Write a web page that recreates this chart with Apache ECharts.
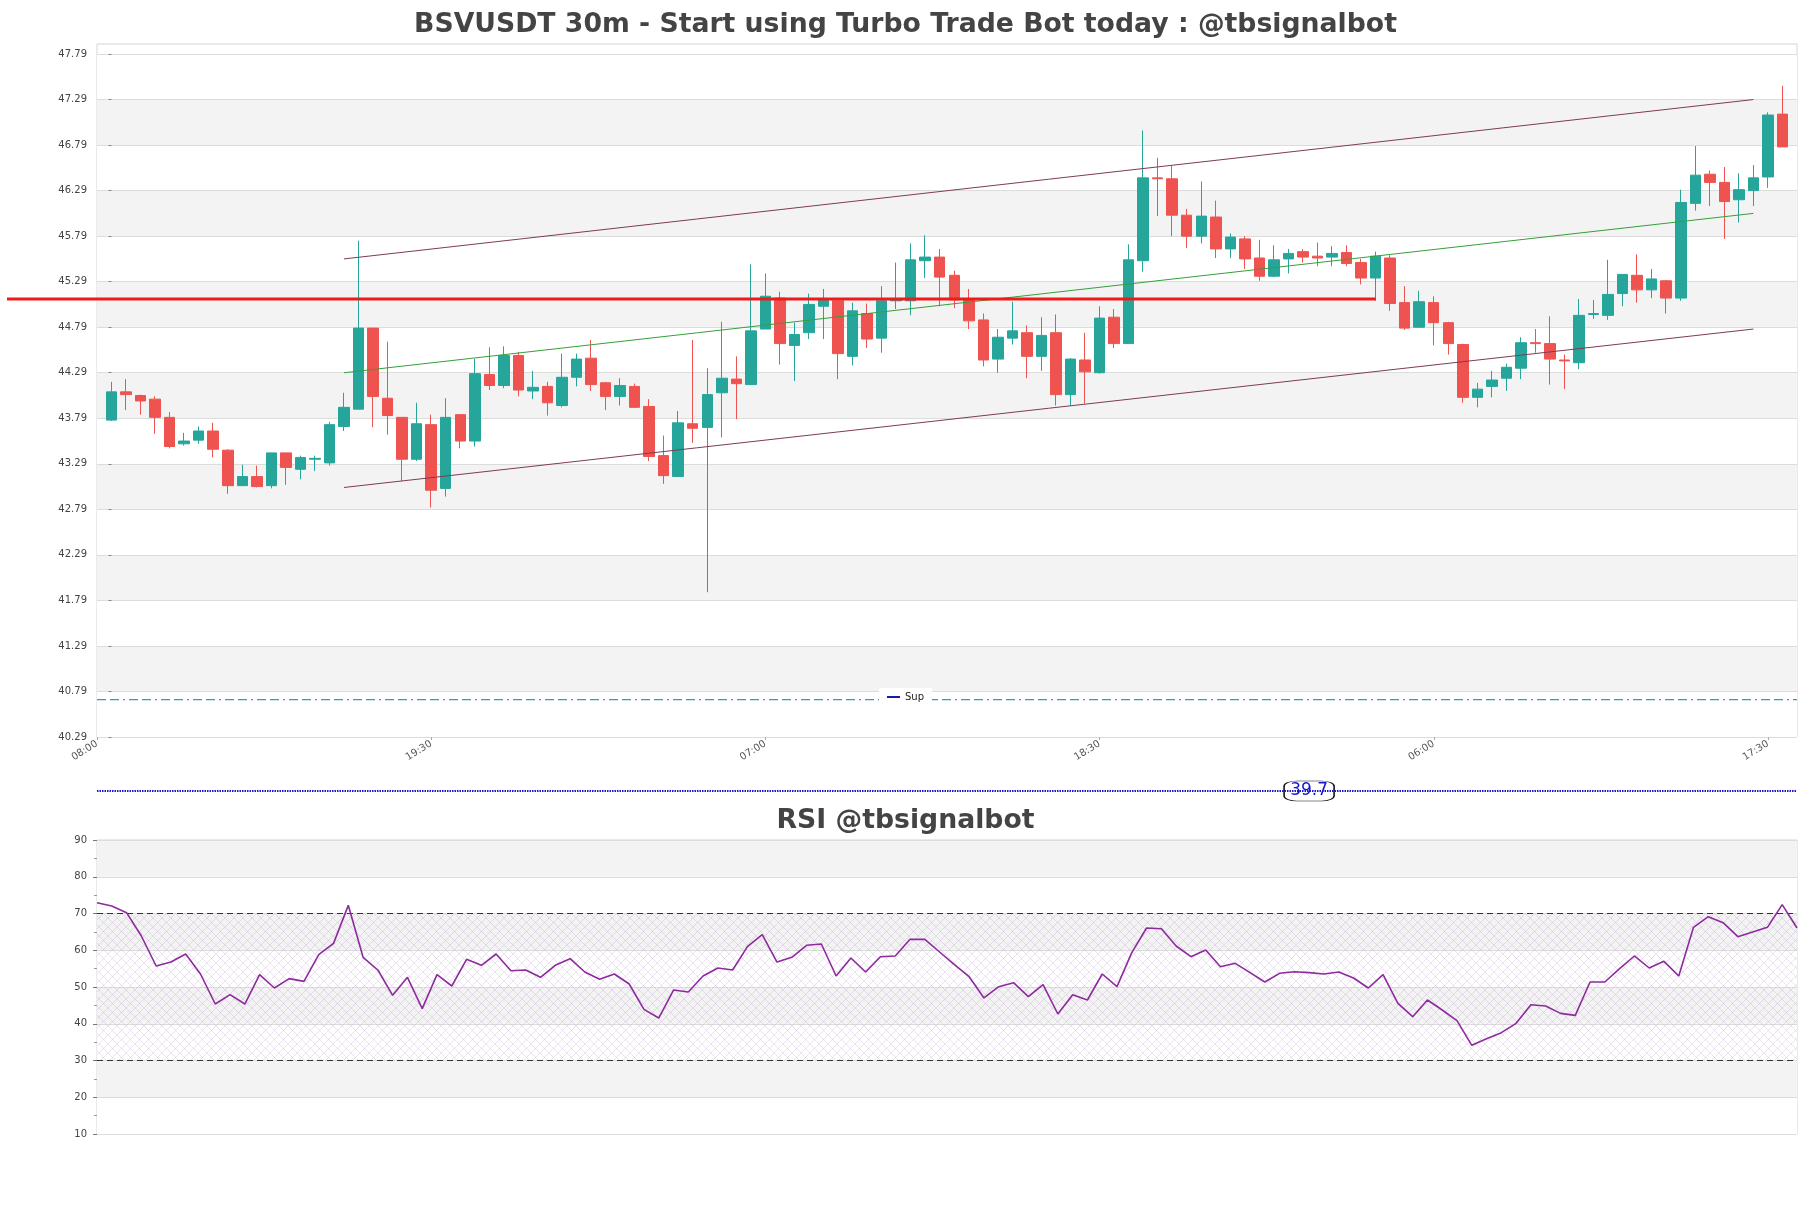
<!DOCTYPE html>
<html><head><meta charset="utf-8">
<script src="https://cdn.jsdelivr.net/npm/echarts@6/dist/echarts.min.js"></script>
<style>html,body{margin:0;padding:0;background:#fff}#c{width:1811px;height:1208px}</style>
</head><body><div id="c"></div>
<script>
// ---- Data ----
const openP  = [43.77,44.08,44.04,44.00,43.80,43.51,43.55,43.65,43.44,43.05,43.15,43.05,43.41,43.23,43.34,43.30,43.70,43.89,44.78,44.01,
                43.80,43.34,43.72,43.02,43.83,43.54,44.27,44.15,44.48,44.09,44.14,43.93,44.24,44.45,44.18,44.03,44.14,43.92,43.38,43.15,
                43.73,43.69,44.07,44.22,44.16,44.77,45.11,44.59,44.73,45.02,45.08,44.47,44.94,44.67,45.08,45.08,45.52,45.56,45.36,45.10,
                44.87,44.44,44.67,44.73,44.47,44.73,44.05,44.43,44.29,44.90,44.61,45.52,46.43,46.42,46.02,45.79,46.00,45.65,45.76,45.55,
                45.35,45.54,45.62,45.57,45.56,45.61,45.50,45.33,45.55,45.06,44.79,45.06,44.84,44.60,44.02,44.14,44.23,44.34,44.62,44.61,
                44.43,44.40,44.93,44.92,45.16,45.36,45.20,45.30,45.11,46.15,46.47,46.38,46.19,46.29,46.44,47.13];
const closeP = [44.08,44.05,43.98,43.80,43.48,43.54,43.65,43.45,43.05,43.15,43.04,43.41,43.25,43.36,43.35,43.72,43.91,44.78,44.03,43.82,
                43.34,43.73,43.00,43.80,43.54,44.28,44.15,44.48,44.10,44.13,43.96,44.24,44.44,44.16,44.03,44.15,43.91,43.37,43.16,43.74,
                43.68,44.05,44.23,44.17,44.75,45.13,44.61,44.71,45.04,45.10,44.50,44.97,44.66,45.08,45.10,45.53,45.56,45.34,45.09,44.86,
                44.43,44.68,44.75,44.47,44.70,44.05,44.44,44.30,44.89,44.61,45.53,46.43,46.42,46.02,45.79,46.01,45.65,45.78,45.54,45.35,
                45.53,45.60,45.56,45.55,45.60,45.49,45.33,45.57,45.05,44.78,45.07,44.84,44.61,44.02,44.11,44.21,44.35,44.62,44.61,44.44,
                44.42,44.92,44.94,45.15,45.37,45.20,45.32,45.11,46.16,46.46,46.38,46.17,46.30,46.43,47.12,46.77];
const lowP   = [43.76,43.88,43.83,43.62,43.46,43.49,43.51,43.36,42.96,43.05,43.03,43.02,43.06,43.12,43.21,43.27,43.65,43.89,43.69,43.61,
                43.10,43.32,42.81,42.93,43.46,43.48,44.10,44.12,44.03,44.00,43.82,43.91,44.14,44.09,43.88,43.93,43.91,43.32,43.07,43.15,
                43.52,41.88,43.58,43.78,44.16,44.77,44.38,44.20,44.66,44.66,44.22,44.37,44.56,44.51,44.99,44.92,45.33,45.02,45.00,44.77,
                44.36,44.29,44.60,44.23,44.31,43.93,43.93,43.95,44.28,44.56,44.61,45.40,46.01,45.79,45.66,45.71,45.55,45.55,45.43,45.30,
                45.34,45.38,45.50,45.46,45.46,45.46,45.26,45.08,44.97,44.76,44.78,44.59,44.49,43.96,43.91,44.02,44.09,44.22,44.51,44.16,
                44.11,44.33,44.88,44.87,45.02,45.06,45.11,44.94,45.08,46.07,46.12,45.76,45.94,46.12,46.32,46.77];
const highP  = [44.19,44.22,44.05,44.03,43.86,43.63,43.70,43.74,43.45,43.28,43.27,43.41,43.41,43.38,43.38,43.75,44.07,45.74,44.78,44.63,
                43.80,43.96,43.83,44.01,43.83,44.44,44.57,44.58,44.52,44.31,44.19,44.50,44.50,44.65,44.19,44.23,44.17,44.00,43.60,43.87,
                44.65,44.34,44.85,44.47,45.48,45.38,45.18,44.84,45.16,45.21,45.08,45.06,45.05,45.24,45.50,45.71,45.80,45.65,45.41,45.21,
                44.94,44.77,45.07,44.81,44.90,44.93,44.45,44.73,45.02,44.99,45.70,46.95,46.65,46.56,46.09,46.39,46.18,45.82,45.79,45.75,
                45.69,45.65,45.65,45.72,45.68,45.69,45.54,45.62,45.58,45.24,45.19,45.13,44.85,44.61,44.18,44.31,44.39,44.68,44.77,44.91,
                44.49,45.10,45.09,45.53,45.37,45.59,45.43,45.31,46.30,46.78,46.51,46.55,46.48,46.57,47.15,47.44];
const rsi = [72.95,72.04,70.23,63.88,55.71,56.80,58.98,53.54,45.37,47.91,45.37,53.36,49.73,52.27,51.54,58.80,61.88,72.22,58.07,54.63,
             47.73,52.63,44.10,53.36,50.27,57.53,55.90,58.98,54.44,54.63,52.63,55.90,57.71,54.08,52.09,53.54,50.82,43.92,41.56,49.18,
             48.64,52.99,55.17,54.63,60.98,64.24,56.80,58.07,61.34,61.70,52.99,57.89,54.08,58.25,58.43,62.97,62.97,59.52,56.08,52.81,
             47.01,50.09,51.18,47.37,50.63,42.65,47.91,46.46,53.54,50.09,59.34,66.05,65.87,61.16,58.25,60.07,55.53,56.44,53.90,51.36,
             53.72,54.17,53.90,53.54,54.08,52.45,49.73,53.36,45.56,41.93,46.46,43.74,40.84,34.13,35.94,37.57,40.11,45.19,44.83,42.83,
             42.29,51.36,51.36,54.99,58.44,55.17,56.98,52.99,66.24,69.14,67.51,63.70,64.97,66.24,72.40,66.05];
const xTickValues = [-1, 22, 45, 68, 91, 114];
const xTickLabels = ['08:00', '19:30', '07:00', '18:30', '06:00', '17:30'];
const yTickLabels = ['40.29','40.79','41.29','41.79','42.29','42.79','43.29','43.79','44.29','44.79','45.29','45.79','46.29','46.79','47.29','47.79'];
const channelUpper = [[16, 45.54], [113, 47.29]];
const channelMid   = [[16, 44.29], [113, 46.04]];
const channelLower = [[16, 43.03], [113, 44.77]];
const redLevel = [[-7.19, 45.10], [87, 45.10]];
const supLevel = [[-1, 40.70], [116, 40.70]];
const signalValue = 39.7;
const titleMain = 'BSVUSDT 30m - Start using Turbo Trade Bot today : @tbsignalbot';
const titleRsi = 'RSI @tbsignalbot';

// ---- Build ----
const yTickValues = yTickLabels.map(Number);
const candleData = openP.map((o, i) => [i, o, closeP[i], lowP[i], highP[i]]);
const rsiCats = rsi.map((_, i) => String(i));

const pat = document.createElement('canvas');
pat.width = 9; pat.height = 9;
const g = pat.getContext('2d');
g.strokeStyle = 'rgba(170,130,190,0.32)';
g.lineWidth = 0.7;
g.beginPath(); g.moveTo(0, 0); g.lineTo(9, 9); g.moveTo(9, 0); g.lineTo(0, 9); g.stroke();

const FONT = 'DejaVu Sans';
const chart = echarts.init(document.getElementById('c'), null, {renderer: 'canvas'});
chart.setOption({
  backgroundColor: '#ffffff',
  animation: false,
  textStyle: {fontFamily: FONT},
  title: [
    {text: titleMain, left: 'center', top: 7, textStyle: {fontFamily: FONT, fontSize: 26.7, fontWeight: 'bold', color: '#444'}},
    {text: titleRsi, left: 'center', top: 803, textStyle: {fontFamily: FONT, fontSize: 26.7, fontWeight: 'bold', color: '#444'}}
  ],
  legend: {
    data: [{name: 'Sup', icon: 'rect', itemStyle: {color: '#1a1aa6'}}],
    left: 'center', top: 688, itemWidth: 13, itemHeight: 2, itemGap: 6,
    backgroundColor: '#ffffff', padding: [4, 8],
    textStyle: {fontFamily: FONT, fontSize: 10, color: '#222'}
  },
  grid: [
    {left: 97, right: 14, top: 44, bottom: 471, show: true, borderColor: '#d5d5d5', borderWidth: 1, backgroundColor: 'transparent', outerBoundsMode: 'none', containLabel: false},
    {left: 97, right: 14, top: 840, bottom: 74, show: true, borderColor: '#d5d5d5', borderWidth: 1, outerBoundsMode: 'none', containLabel: false},
    {left: 97, right: 14, top: 781, height: 20, show: false, outerBoundsMode: 'none', containLabel: false},
    {left: 7, right: 14, top: 44, bottom: 471, show: false, outerBoundsMode: 'none', containLabel: false}
  ],
  xAxis: [
    {type: 'value', gridIndex: 0, min: -1, max: 116,
     axisLine: {show: false}, splitLine: {show: false},
     axisTick: {show: true, customValues: xTickValues, length: 3, lineStyle: {color: '#aaa'}},
     axisLabel: {customValues: xTickValues, rotate: 32, fontSize: 10, color: '#555', fontFamily: FONT, margin: 6,
                 formatter: v => { const k = xTickValues.indexOf(v); return k >= 0 ? xTickLabels[k] : ''; }}},
    {type: 'category', gridIndex: 1, data: rsiCats, boundaryGap: false,
     axisLine: {show: false}, axisTick: {show: false}, axisLabel: {show: false}, splitLine: {show: false}},
    {type: 'value', gridIndex: 2, min: 0, max: 1, show: false},
    {type: 'value', gridIndex: 3, min: -7.19, max: 116, show: false}
  ],
  yAxis: [
    {type: 'value', gridIndex: 0, min: 40.29, max: 47.9,
     axisLine: {show: false},
     axisTick: {show: true, customValues: yTickValues, length: 3, lineStyle: {color: '#888'}},
     axisLabel: {customValues: yTickValues, fontSize: 10, color: '#444', fontFamily: FONT, margin: 10,
                 formatter: v => v.toFixed(2)},
     splitLine: {show: true, lineStyle: {color: '#dcdcdc', width: 1}},
     splitArea: {show: true, areaStyle: {color: ['#ffffff', '#f3f3f3']}}},
    {type: 'value', gridIndex: 1, min: 10, max: 90, interval: 10,
     axisLine: {show: false},
     axisTick: {show: true, length: 4, lineStyle: {color: '#777'}},
     minorTick: {show: true, splitNumber: 2, length: 3, lineStyle: {color: '#999'}},
     axisLabel: {fontSize: 10, color: '#444', fontFamily: FONT, margin: 10},
     splitLine: {show: true, lineStyle: {color: '#dcdcdc', width: 1}},
     splitArea: {show: true, areaStyle: {color: ['#ffffff', '#f3f3f3']}}},
    {type: 'value', gridIndex: 2, min: 39.6, max: 39.8, show: false},
    {type: 'value', gridIndex: 3, min: 40.29, max: 47.9, show: false}
  ],
  series: [
    {name: 'Sup', type: 'line', xAxisIndex: 0, yAxisIndex: 0, data: supLevel, symbol: 'none', z: 3,
     lineStyle: {color: '#2a9ad6', width: 1.3, type: [9, 4, 9, 4, 2, 4]}, itemStyle: {color: '#1a1aa6'}},
    {name: 'price', type: 'candlestick', xAxisIndex: 0, yAxisIndex: 0, data: candleData, barWidth: '75%', z: 4,
     itemStyle: {color: '#26a69a', color0: '#ef5350', borderColor: '#26a69a', borderColor0: '#ef5350', borderWidth: 1}},
    {name: 'upper', type: 'line', xAxisIndex: 0, yAxisIndex: 0, data: channelUpper, symbol: 'none', z: 5,
     lineStyle: {color: '#7d3c55', width: 1}},
    {name: 'mid', type: 'line', xAxisIndex: 0, yAxisIndex: 0, data: channelMid, symbol: 'none', z: 5,
     lineStyle: {color: '#34a03a', width: 1}},
    {name: 'lower', type: 'line', xAxisIndex: 0, yAxisIndex: 0, data: channelLower, symbol: 'none', z: 5,
     lineStyle: {color: '#7d3c55', width: 1}},
    {name: 'level', type: 'line', xAxisIndex: 3, yAxisIndex: 3, data: redLevel, symbol: 'none', z: 6, clip: false,
     lineStyle: {color: '#ee1b1b', width: 3}},
    {name: 'signal', type: 'line', xAxisIndex: 2, yAxisIndex: 2, data: [[0, signalValue], [1, signalValue]], symbol: 'none', z: 6,
     lineStyle: {color: '#1818c8', width: 2, type: [1.5, 1]},
     markPoint: {symbol: 'roundRect', symbolSize: [50, 20], silent: true,
       itemStyle: {color: '#ffffff', borderColor: '#111', borderWidth: 1},
       label: {show: true, position: 'inside', formatter: String(signalValue), color: '#1818c8', fontSize: 17, fontFamily: FONT},
       data: [{coord: [0.713, signalValue]}]}},
    {name: 'RSI', type: 'line', xAxisIndex: 1, yAxisIndex: 1, data: rsi, symbol: 'none', z: 5,
     lineStyle: {color: '#8e2a9e', width: 1.6},
     markLine: {silent: true, symbol: 'none', label: {show: false},
       lineStyle: {color: '#333', width: 1.2, type: [6, 4]},
       data: [{yAxis: 70}, {yAxis: 30}]},
     markArea: {silent: true, itemStyle: {color: {image: pat, repeat: 'repeat'}},
       data: [[{yAxis: 30}, {yAxis: 70}]]}}
  ]
});
</script>
</body></html>
